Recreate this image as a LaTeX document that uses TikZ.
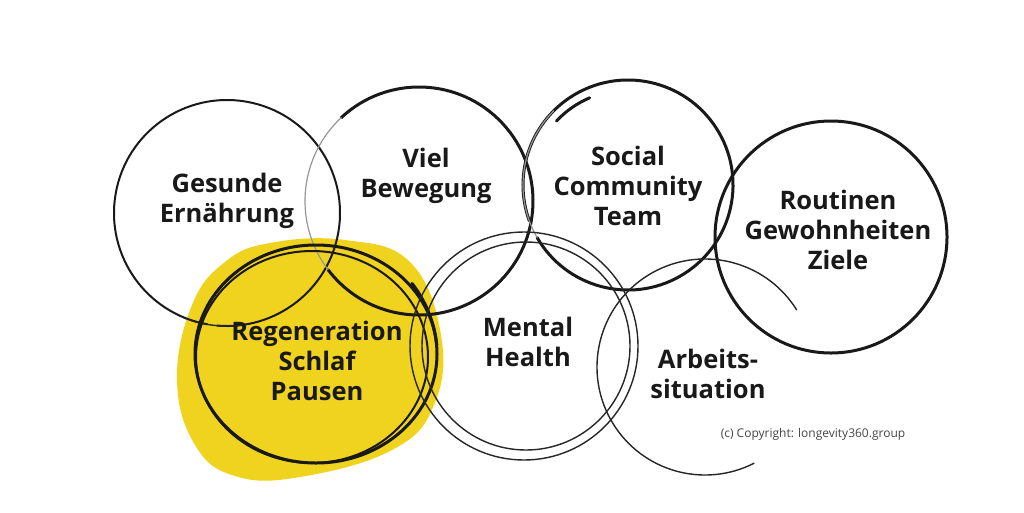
\documentclass[tikz,border=0pt]{standalone}
\usepackage{fontspec}
\setmainfont{Open Sans}
\definecolor{blobyellow}{RGB}{240,211,30}
\definecolor{lightline}{RGB}{150,150,150}
\definecolor{copygray}{RGB}{70,70,70}
\tikzset{
  label/.style={align=center,font=\bfseries\fontsize{25.5}{30}\selectfont,text=black!90},
  thickring/.style={draw=black!90,line width=3pt,line cap=round},
  midring/.style={draw=black!90,line width=2pt,line cap=round},
  thinring/.style={draw=black!85,line width=1.4pt,line cap=round},
  grayring/.style={draw=lightline,line width=1.2pt,line cap=round}
}
\begin{document}
\begin{tikzpicture}[x=1pt,y=-1pt]
\useasboundingbox[fill=white] (0,0) rectangle (1024,512);
% yellow blob
\fill[blobyellow] plot[smooth cycle,tension=0.7] coordinates {(270,243) (345,240) (410,262) (441,335) (434,405) (392,450) (300,477) (235,476) (195,445) (177,380) (192,305) (225,262)};
% Gesunde Ernaehrung
\draw[midring] (227,213) ++(100:113) arc[start angle=100,end angle=455,radius=113];
\draw[thinring] (227,213) ++(80:113) arc[start angle=80,end angle=112,radius=115];
% Viel Bewegung
\draw[thickring] (419,201) ++(-133:114) arc[start angle=-133,end angle=143,radius=114];
\draw[grayring] (419,201) ++(143:114) arc[start angle=143,end angle=227,radius=114];
% Social Community Team
\draw[thickring] (628,185) ++(150:105) arc[start angle=150,end angle=-200,radius=105];
\draw[grayring] (628,185) ++(150:105) arc[start angle=150,end angle=225,radius=105];
\draw[thickring] (628,188) ++(-137:98) arc[start angle=-137,end angle=-113,radius=98];
% Routinen
\draw[thickring] (831,237) circle[radius=116];
% Regeneration rings
\draw[thickring] (316,354) ellipse[x radius=121,y radius=109];
\draw[midring] (312,357) ellipse[x radius=116,y radius=106];
\draw[thickring] (319,356) ++(-38:118) arc[start angle=-38,end angle=-6,radius=120];
% Mental Health
\draw[thinring] (524,346) circle[radius=114];
\draw[thinring] (526,346) circle[radius=104];
% Arbeitssituation
\draw[thinring] (705,367) ++(-32:108) arc[start angle=-32,end angle=-297,radius=108];
% labels
\node[label] (ge) at (227,201) {Gesunde\\Ernährung};
\node[label] (vb) at (426,176) {Viel\\Bewegung};
\node[label] (sc) at (628,186) {Social\\Community\\Team};
\node[label] (rg) at (838,230) {Routinen\\Gewohnheiten\\Ziele};
\node[label] (re) at (317,361) {Regeneration\\Schlaf\\Pausen};
\node[label] (mh) at (528,342) {Mental\\Health};
\node[label] (as) at (708,374) {Arbeits-\\situation};
\node[font=\fontsize{12}{14}\selectfont,text=copygray] (cp) at (813,434) {(c) Copyright: longevity360.group};
\end{tikzpicture}
\end{document}
